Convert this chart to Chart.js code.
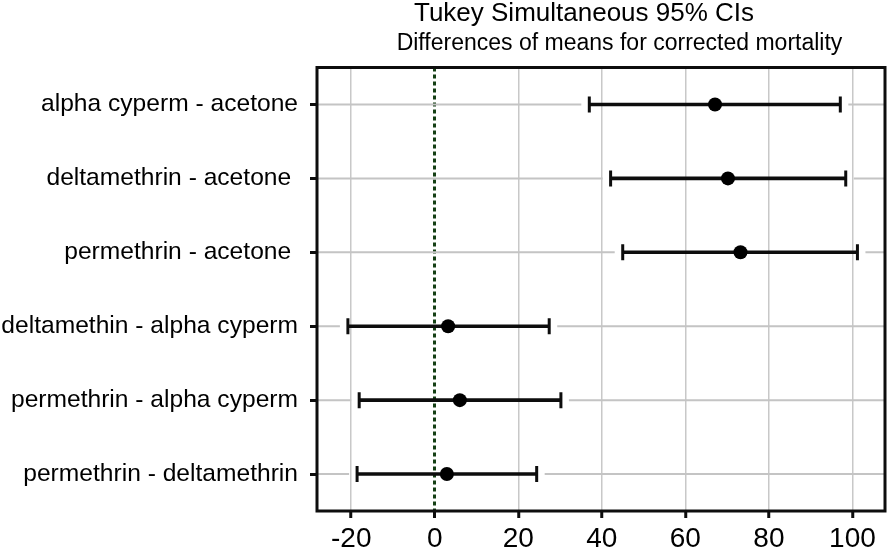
<!DOCTYPE html>
<html>
<head>
<meta charset="utf-8">
<script src="https://cdn.jsdelivr.net/npm/chart.js@4"></script>
<style>
  html, body { margin: 0; padding: 0; background: #fff; }
  #wrap { width: 896px; height: 553px; }
</style>
</head>
<body>
<div id="wrap"><canvas id="chart"></canvas></div>
<script>
const TITLE = 'Tukey Simultaneous 95% CIs';
const SUBTITLE = 'Differences of means for corrected mortality';
const CATEGORIES = [
    'alpha cyperm - acetone',
    'deltamethrin - acetone ',
    'permethrin - acetone ',
    'deltamethin - alpha cyperm',
    'permethrin - alpha cyperm',
    'permethrin - deltamethrin'
];
const MEANS = [67.1, 70.2, 73.2, 3.2, 6.0, 2.9];
const LOWER = [37.0, 42.1, 45.0, -20.8, -18.1, -18.6];
const UPPER = [97.1, 98.4, 101.2, 27.4, 30.2, 24.4];
const X_TICKS = [-20, 0, 20, 40, 60, 80, 100];
const X_MIN = -28.2;
const X_MAX = 107.8;

const FONT = '"Liberation Sans", Arial, sans-serif';
const INK = '#0d0d0d';
const GRID = '#c8c8c8';
const ZERO = '#143f14';

// grey row lines, broken around each interval
const rowLines = {
    id: 'rowLines',
    beforeDatasetsDraw(chart) {
        const { ctx, chartArea, scales: { x, y } } = chart;
        ctx.save();
        ctx.strokeStyle = '#c4c4c4';
        ctx.lineWidth = 2;
        CATEGORIES.forEach((c, i) => {
            const py = y.getPixelForValue(i);
            const lo = x.getPixelForValue(LOWER[i]) - 8;
            const hi = x.getPixelForValue(UPPER[i]) + 8;
            ctx.beginPath();
            ctx.moveTo(chartArea.left, py);
            ctx.lineTo(lo, py);
            ctx.moveTo(hi, py);
            ctx.lineTo(chartArea.right, py);
            ctx.stroke();
        });
        ctx.restore();
    }
};

// frame and headings
const frame = {
    id: 'frame',
    afterDraw(chart) {
        const { ctx, chartArea: a } = chart;
        ctx.save();
        ctx.strokeStyle = INK;
        ctx.lineWidth = 3;
        ctx.strokeRect(a.left, a.top, a.right - a.left, a.bottom - a.top);
        ctx.fillStyle = '#000';
        ctx.textAlign = 'center';
        ctx.textBaseline = 'alphabetic';
        ctx.font = '26px ' + FONT;
        ctx.fillText(TITLE, 584, 21);
        ctx.font = '23px ' + FONT;
        ctx.fillText(SUBTITLE, 619.5, 50);
        ctx.restore();
    }
};

new Chart(document.getElementById('chart'), {
    type: 'bar',
    data: {
        labels: CATEGORIES,
        datasets: [
            {
                type: 'scatter',
                label: 'mean',
                data: MEANS.map((v, i) => ({ x: v, y: CATEGORIES[i] })),
                pointRadius: 7,
                pointBackgroundColor: '#000',
                pointBorderWidth: 0,
                order: 0
            },
            {
                type: 'scatter',
                label: 'caps',
                data: LOWER.map((v, i) => ({ x: v, y: CATEGORIES[i] }))
                    .concat(UPPER.map((v, i) => ({ x: v, y: CATEGORIES[i] }))),
                pointStyle: 'line',
                rotation: 90,
                pointRadius: 8,
                borderColor: INK,
                borderWidth: 3,
                order: 1
            },
            {
                label: 'CI',
                data: LOWER.map((v, i) => [v, UPPER[i]]),
                backgroundColor: INK,
                borderWidth: 0,
                barThickness: 3,
                order: 2
            }
        ]
    },
    options: {
        indexAxis: 'y',
        responsive: true,
        maintainAspectRatio: false,
        animation: false,
        layout: { padding: { top: 67.5, right: 4, left: 0, bottom: 0 } },
        plugins: { legend: { display: false }, tooltip: { enabled: false } },
        scales: {
            x: {
                type: 'linear',
                min: X_MIN,
                max: X_MAX,
                afterBuildTicks: s => { s.ticks = X_TICKS.map(v => ({ value: v })); },
                afterFit: s => { s.height = 42; },
                grid: {
                    color: c => (c.tick && c.tick.value === 0 ? ZERO : GRID),
                    lineWidth: c => (c.tick && c.tick.value === 0 ? 3 : 1.5),
                    tickColor: INK,
                    tickWidth: 3,
                    tickLength: 7
                },
                border: {
                    display: false,
                    dash: c => (c.tick && c.tick.value === 0 ? [4, 3] : [])
                },
                ticks: {
                    color: '#000',
                    font: { family: FONT, size: 28 },
                    padding: 4,
                    maxRotation: 0
                }
            },
            y: {
                type: 'category',
                offset: true,
                afterFit: s => { s.width = 317; },
                grid: {
                    offset: false,
                    drawOnChartArea: false,
                    tickColor: INK,
                    tickWidth: 3,
                    tickLength: 7
                },
                border: { display: false },
                ticks: {
                    color: '#000',
                    font: { family: FONT, size: 24.6 },
                    padding: 12
                }
            }
        }
    },
    plugins: [rowLines, frame]
});
</script>
</body>
</html>
